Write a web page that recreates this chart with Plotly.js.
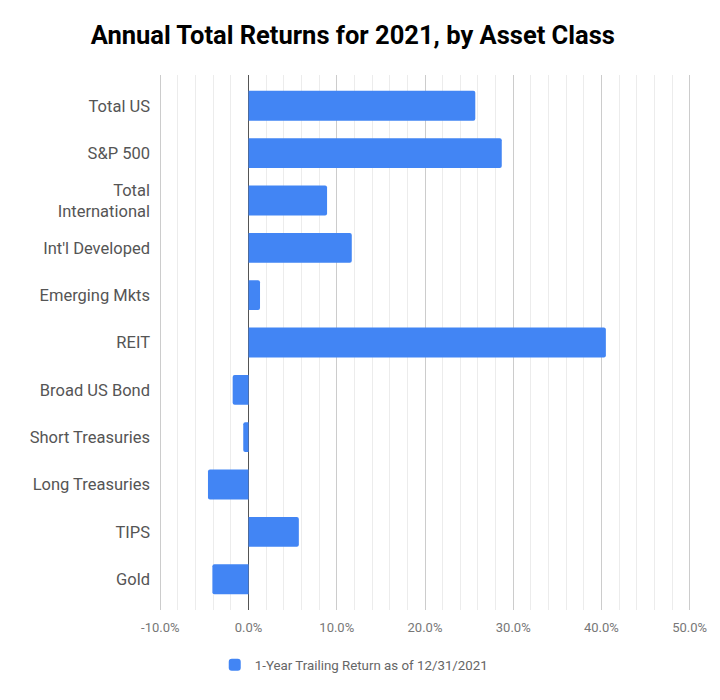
<!DOCTYPE html>
<html>
<head>
<meta charset="utf-8">
<script src="https://cdn.plot.ly/plotly-3.0.1.min.js"></script>
<style>html,body{margin:0;padding:0;background:#fff;}#chart{width:720px;height:700px;}</style>
</head>
<body>
<div id="chart"></div>
<script>
const categories = ["Total US", "S&P 500", "Total<br>International", "Int'l Developed", "Emerging Mkts", "REIT", "Broad US Bond", "Short Treasuries", "Long Treasuries", "TIPS", "Gold"];
const returns = [25.7, 28.7, 8.9, 11.7, 1.3, 40.5, -1.8, -0.6, -4.6, 5.7, -4.1];
const seriesName = "1-Year Trailing Return as of 12/31/2021";
const xTickVals = [-10, 0, 10, 20, 30, 40, 50];
const xTickText = ["-10.0%", "0.0%", "10.0%", "20.0%", "30.0%", "40.0%", "50.0%"];

const trace = {
  type: 'bar',
  orientation: 'h',
  x: returns,
  y: categories,
  name: seriesName,
  marker: {color: '#4285F4', cornerradius: 2},
  showlegend: true,
  hoverinfo: 'x+y'
};

const layout = {
  width: 720, height: 700,
  paper_bgcolor: '#fff', plot_bgcolor: '#fff',
  font: {family: 'Roboto, Arial, sans-serif', color: '#555'},
  title: {text: '<b>Annual Total Returns for 2021, by Asset Class</b>', font: {size: 25.5, color: '#000', family: 'Roboto, Arial, sans-serif'}, x: 0.49, xref: 'container', xanchor: 'center', y: 0.95, yref: 'container', yanchor: 'middle'},
  margin: {l: 159, r: 29, t: 75, b: 90},
  bargap: 0.37,
  xaxis: {
    range: [-10.15, 50.15],
    tickvals: xTickVals, ticktext: xTickText,
    tickfont: {size: 13, color: '#777'},
    showgrid: true, gridcolor: '#cccccc', gridwidth: 1,
    minor: {dtick: 2, tick0: 0, showgrid: true, gridcolor: '#ececec', gridwidth: 1},
    zeroline: true, zerolinecolor: '#555', zerolinewidth: 1,
    showline: false, ticks: '', ticklabelstandoff: 8, fixedrange: true
  },
  yaxis: {
    type: 'category',
    range: [10.65, -0.65],
    tickfont: {size: 16.5, color: '#555'},
    showgrid: false, showline: false, ticks: '', ticklabelstandoff: 8, fixedrange: true
  },
  legend: {orientation: 'h', x: 0.492, xref: 'container', xanchor: 'center', y: 0.05, yref: 'container', yanchor: 'middle', font: {size: 13.3, color: '#666'}}
};

Plotly.newPlot('chart', [trace], layout, {displayModeBar: false, staticPlot: true});
</script>
</body>
</html>
